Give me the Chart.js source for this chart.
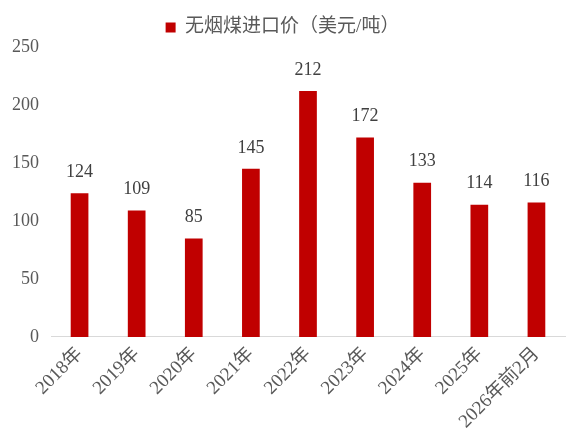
<!DOCTYPE html>
<html>
<head>
<meta charset="utf-8">
<script src="https://cdn.jsdelivr.net/npm/chart.js@4"></script>
<style>
  html, body { margin: 0; padding: 0; background: #fff; }
  #wrap { width: 577px; height: 441px; }
</style>
</head>
<body>
<div id="wrap"><canvas id="myChart"></canvas></div>
<script>
const labels = ["2018年", "2019年", "2020年", "2021年", "2022年", "2023年", "2024年", "2025年", "2026年前2月"];
const prices = [124, 109, 85, 145, 212, 172, 133, 114, 116];
const seriesName = "无烟煤进口价（美元/吨）";

const fontFamily = '"Liberation Serif", "Noto Sans CJK SC", serif';

// draws the value above each bar
const valueLabels = {
  id: "valueLabels",
  afterDatasetsDraw(chart) {
    const ctx = chart.ctx;
    ctx.save();
    ctx.font = "18px " + fontFamily;
    ctx.fillStyle = "#404040";
    ctx.textAlign = "center";
    ctx.textBaseline = "middle";
    chart.getDatasetMeta(0).data.forEach((bar, i) => {
      ctx.fillText(prices[i], bar.x, bar.y - 21);
    });
    ctx.restore();
  },
};

const ctx = document.getElementById("myChart").getContext("2d");
const myChart = new Chart(ctx, {
  type: "bar",
  data: {
    labels: labels,
    datasets: [
      {
        label: seriesName,
        data: prices,
        backgroundColor: "#C00000",
        barPercentage: 0.31,
        categoryPercentage: 1,
      },
    ],
  },
  options: {
    responsive: true,
    maintainAspectRatio: false,
    animation: false,
    layout: { padding: { top: 8, right: 12, left: 0, bottom: 2 } },
    plugins: {
      legend: {
        position: "top",
        labels: {
          boxWidth: 10,
          boxHeight: 10,
          color: "#595959",
          font: { size: 19, family: fontFamily },
          padding: 10,
        },
      },
      tooltip: { enabled: false },
    },
    scales: {
      x: {
        grid: { display: false, drawTicks: false },
        border: { color: "#D9D9D9", width: 1 },
        ticks: {
          color: "#595959",
          font: { size: 19, family: fontFamily },
          minRotation: 45,
          maxRotation: 45,
          padding: 6,
        },
      },
      y: {
        min: 0,
        max: 250,
        grid: { display: false, drawTicks: false },
        border: { display: false },
        ticks: {
          stepSize: 50,
          color: "#595959",
          font: { size: 18, family: fontFamily },
          padding: 12,
        },
      },
    },
  },
  plugins: [valueLabels],
});
</script>
</body>
</html>
